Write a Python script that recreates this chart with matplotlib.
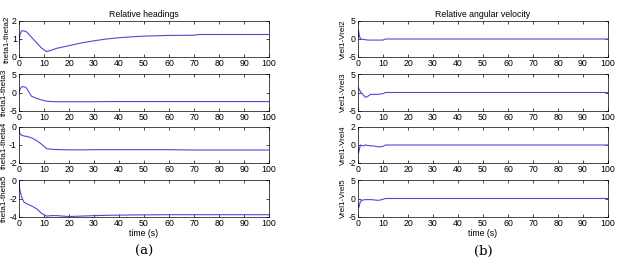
import numpy as np
import matplotlib.pyplot as plt

plt.rcParams['font.family'] = ['Liberation Sans', 'DejaVu Sans']

# time samples (s)
t_head = [0, 0.3, 1, 2, 3, 5, 7, 9, 11, 13, 15, 20, 25, 30, 35, 40, 45, 50, 55, 60, 70, 72, 80, 90, 100]
d12 = [0.7, 1.2, 1.45, 1.45, 1.4, 1.1, 0.8, 0.5, 0.3, 0.38, 0.48, 0.63, 0.78, 0.9, 1.0, 1.07, 1.12, 1.16, 1.18, 1.2, 1.21, 1.25, 1.25, 1.25, 1.25]
d13 = [0.0, 0.8, 1.5, 1.6, 1.2, -1.0, -1.6, -2.0, -2.35, -2.45, -2.5, -2.5, -2.5, -2.5, -2.45, -2.45, -2.45, -2.45, -2.45, -2.45, -2.45, -2.45, -2.45, -2.45, -2.45]
d14 = [-0.15, -0.35, -0.45, -0.5, -0.52, -0.6, -0.75, -0.95, -1.2, -1.24, -1.25, -1.27, -1.27, -1.26, -1.26, -1.26, -1.26, -1.26, -1.26, -1.26, -1.28, -1.28, -1.28, -1.28, -1.28]
d15 = [0.0, -1.0, -1.8, -2.4, -2.55, -2.8, -3.1, -3.6, -3.9, -3.85, -3.85, -3.95, -3.9, -3.85, -3.82, -3.8, -3.78, -3.77, -3.76, -3.75, -3.75, -3.75, -3.75, -3.75, -3.75]

t_vel = [0, 0.2, 0.5, 1, 2, 3, 4, 5, 6, 8, 9, 10, 11, 12, 20, 40, 60, 80, 100]
v12 = [0.5, 2.5, 1.0, 0.0, -0.1, -0.2, -0.3, -0.3, -0.3, -0.3, -0.3, -0.3, 0.0, 0.0, 0.0, 0.0, 0.0, 0.0, 0.0]
v13 = [1.5, 1.2, 0.8, 0.2, -0.6, -1.3, -1.0, -0.5, -0.5, -0.5, -0.4, -0.3, 0.0, 0.0, 0.0, 0.0, 0.0, 0.0, 0.0]
v14 = [-0.3, -0.9, -0.5, 0.0, -0.1, 0.0, -0.05, -0.1, -0.1, -0.2, -0.2, -0.15, 0.0, 0.0, 0.0, 0.0, 0.0, 0.0, 0.0]
v15 = [-1.5, -2.5, -2.0, -0.7, -0.4, -0.3, -0.3, -0.3, -0.35, -0.5, -0.4, -0.2, 0.0, 0.0, 0.0, 0.0, 0.0, 0.0, 0.0]

head_labels = ['theta1-theta2', 'theta1-theta3', 'theta1-theta4', 'theta1-theta5']
vel_labels = ['Vrel1-Vrel2', 'Vrel1-Vrel3', 'Vrel1-Vrel4', 'Vrel1-Vrel5']
head_lims = [(0, 2), (-5, 5), (-2, 0), (-4, 0)]
vel_lims = [(-5, 5), (-5, 5), (-2, 2), (-5, 5)]

W, H = 618, 265
fig = plt.figure(figsize=(W / 100, H / 100), dpi=100)

rows = [(21, 57), (74, 111), (127, 163), (180, 217)]
cols = [(19, 269), (358, 608)]
blue = '#4a4ad8'
fs = 6.3


def add_panel(x0, x1, t, series, labels, lims, title, tag):
    for i, (y0, y1) in enumerate(rows):
        ax = fig.add_axes([x0 / W, 1 - y1 / H, (x1 - x0) / W, (y1 - y0) / H])
        ax.plot(t, series[i], color=blue, lw=0.8)
        ax.set_xlim(0, 100)
        ax.set_ylim(*lims[i])
        ax.set_xticks(np.arange(0, 101, 10))
        lo, hi = lims[i]
        ax.set_yticks([lo, (lo + hi) / 2, hi])
        ax.set_yticklabels([f'{v:g}' for v in [lo, (lo + hi) / 2, hi]])
        ax.tick_params(direction='in', top=True, right=True, labelsize=fs,
                       length=2.5, width=0.5, pad=1.5)
        for s in ax.spines.values():
            s.set_linewidth(0.5)
        ax.set_ylabel(labels[i], fontsize=5.8, labelpad=1)
        if i == 0:
            ax.set_title(title, fontsize=fs, pad=3)
        if i == 3:
            ax.set_xlabel('time (s)', fontsize=fs, labelpad=1)
    fig.text((x0 + x1) / 2 / W, 1 - 251 / H, tag, ha='center', va='center',
             fontsize=9.5, family='DejaVu Serif')


add_panel(*cols[0], t_head, [d12, d13, d14, d15], head_labels, head_lims,
          'Relative headings', '(a)')
add_panel(*cols[1], t_vel, [v12, v13, v14, v15], vel_labels, vel_lims,
          'Relative angular velocity', '(b)')

fig.savefig('out.png', dpi=100)
